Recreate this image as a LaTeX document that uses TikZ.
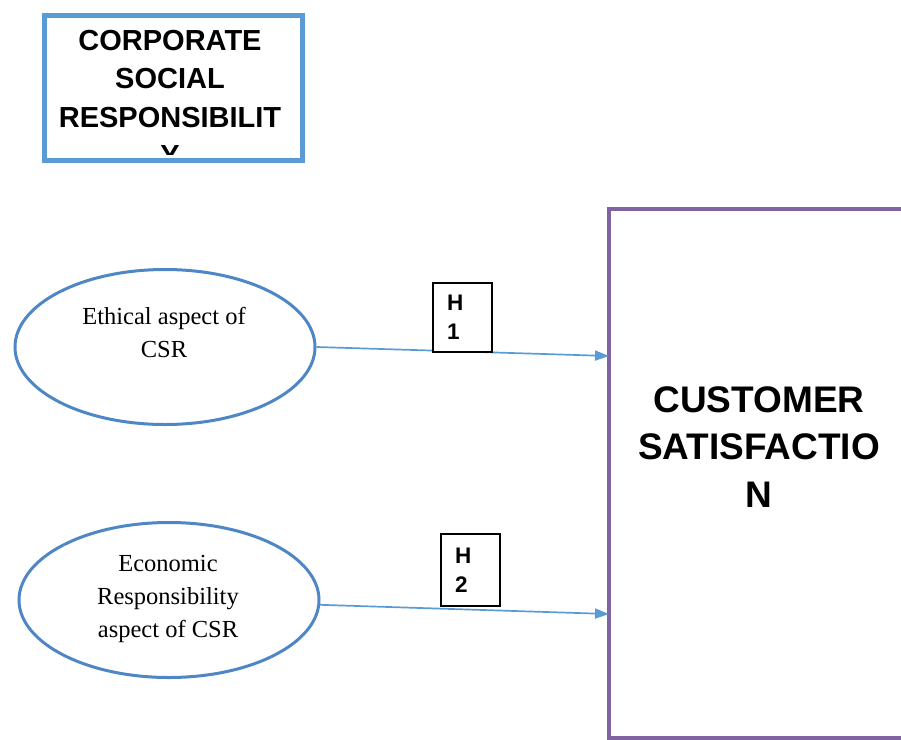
\documentclass[tikz,border=0pt]{standalone}
\usepackage{fontspec}
\setmainfont{Liberation Serif}
\newfontfamily\arialfont{Liberation Sans}
\usetikzlibrary{arrows.meta,shapes.geometric}
\definecolor{csrblue}{HTML}{5B9BD5}
\definecolor{ovalblue}{HTML}{4F86C6}
\definecolor{cspurple}{HTML}{8064A2}
\begin{document}
\begin{tikzpicture}[x=1pt,y=-1pt,
  topbox/.style={draw=csrblue, line width=5pt, minimum width=258pt, minimum height=145pt, inner sep=0pt},
  oval/.style={ellipse, draw=ovalblue, line width=3pt, minimum width=300pt, minimum height=155pt, inner sep=0pt},
  ovaltext/.style={font=\fontsize{24.5}{33}\selectfont, align=center, inner sep=0pt},
  hbox/.style={draw=black, line width=1.3pt, fill=white, font=\arialfont\bfseries\fontsize{22.5}{29}\selectfont,
    text width=31pt, align=left, inner xsep=14pt, inner ysep=0pt, minimum width=59pt},
  bigbox/.style={draw=cspurple, line width=4pt, minimum width=300pt, minimum height=529pt, inner sep=0pt},
  arr/.style={-{Triangle[length=14pt,width=10pt]}, draw=csrblue, line width=1.7pt}
]
\useasboundingbox (0,0) rectangle (901,739);
\clip (0,0) rectangle (901,739);
% top box, last line cut by the frame
\node[topbox] (csr) at (173.5,88) {};
\begin{scope}
  \clip (44,15) rectangle (303,154);
  \node[font=\arialfont\bfseries\fontsize{29}{38.5}\selectfont, align=center, inner sep=0pt] (csrtext) at (170,98)
    {CORPORATE\\SOCIAL\\RESPONSIBILIT\\Y};
\end{scope}
% dimensions
\node[oval] (eth) at (165,347) {};
\node[ovaltext] (ethtext) at (164,332) {Ethical aspect of\\CSR};
\node[oval] (eco) at (169,600) {};
\node[ovaltext] (ecotext) at (168,599) {Economic\\Responsibility\\aspect of CSR};
% dependent variable
\node[bigbox] (cs) at (759,473.5) {};
\node[font=\arialfont\bfseries\fontsize{37}{47.5}\selectfont, align=center, inner sep=0pt] (cstext) at (759,447)
  {CUSTOMER\\SATISFACTIO\\N};
\coordinate (t1) at (609,356);
\coordinate (t2) at (609,614);
\draw[arr] (eth.east) -- (t1);
\draw[arr] (eco) -- (t2);
% hypotheses
\node[hbox, minimum height=69pt] (h1) at (462.5,317.5) {H\\1};
\node[hbox, minimum height=72pt] (h2) at (470.5,570) {H\\2};
\end{tikzpicture}
\end{document}
